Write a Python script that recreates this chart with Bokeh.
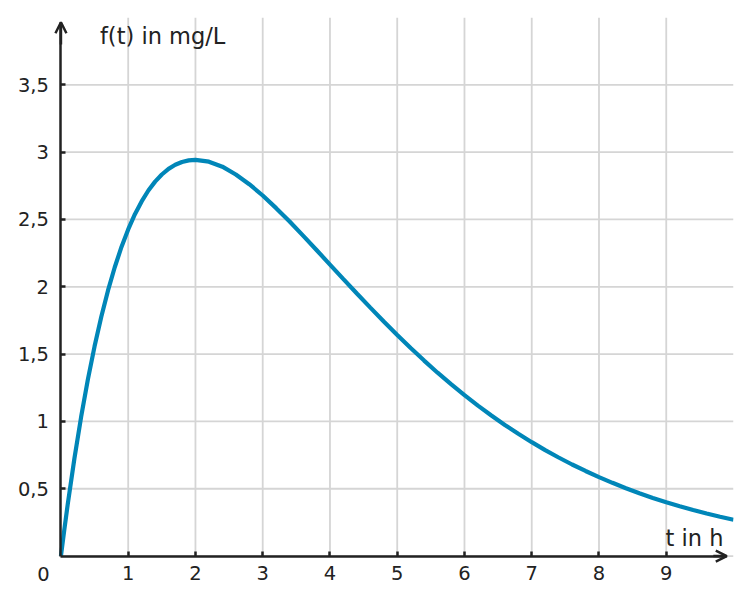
from bokeh.plotting import figure
from bokeh.models import Range1d, FixedTicker, Arrow, OpenHead, Label
from bokeh.embed import file_html
from bokeh.resources import INLINE

# data: concentration f(t) in mg/L over time t in h
t_values = [0, 0.05, 0.1, 0.2, 0.3, 0.4, 0.5, 0.6, 0.7, 0.8, 0.9, 1.0, 1.1, 1.2, 1.3, 1.4,
            1.5, 1.6, 1.7, 1.8, 1.9, 2.0, 2.2, 2.4, 2.6, 2.8, 3.0, 3.2, 3.4, 3.6, 3.8,
            4.0, 4.2, 4.4, 4.6, 4.8, 5.0, 5.2, 5.4, 5.6, 5.8, 6.0, 6.2, 6.4, 6.6, 6.8,
            7.0, 7.2, 7.4, 7.6, 7.8, 8.0, 8.2, 8.4, 8.6, 8.8, 9.0, 9.2, 9.4, 9.6, 9.8, 10.0]
f_values = [0, 0.195, 0.381, 0.724, 1.033, 1.310, 1.558, 1.778, 1.973, 2.145, 2.296, 2.426,
            2.539, 2.634, 2.715, 2.781, 2.834, 2.876, 2.906, 2.927, 2.939, 2.943, 2.929,
            2.892, 2.834, 2.762, 2.678, 2.584, 2.485, 2.380, 2.273, 2.165, 2.057, 1.950,
            1.845, 1.742, 1.642, 1.545, 1.452, 1.362, 1.277, 1.195, 1.117, 1.044, 0.974,
            0.908, 0.846, 0.787, 0.732, 0.680, 0.632, 0.586, 0.544, 0.504, 0.467, 0.432,
            0.400, 0.370, 0.342, 0.316, 0.292, 0.270]

x_ticks = [1, 2, 3, 4, 5, 6, 7, 8, 9]
y_ticks = [0.5, 1, 1.5, 2, 2.5, 3, 3.5]
y_tick_labels = {0.5: "0,5", 1: "1", 1.5: "1,5", 2: "2", 2.5: "2,5", 3: "3", 3.5: "3,5"}
y_axis_title = "f(t) in mg/L"
x_axis_title = "t in h"
origin_label = "0"

T_MAX = 10
F_MAX = 4

FONT = "DejaVu Sans"
AX = "#222222"
GRID = "#d5d5d5"

p = figure(width=745, height=600, output_backend="svg", toolbar_location=None,
           x_range=Range1d(-0.75, T_MAX), y_range=Range1d(-0.33, F_MAX),
           min_border_left=10, min_border_right=12, min_border_top=17, min_border_bottom=0)
p.outline_line_color = None
p.background_fill_color = "white"
p.border_fill_color = "white"
p.xgrid.visible = False
p.ygrid.visible = False

# grid lines (limited to the positive quadrant)
p.segment(x0=x_ticks, y0=[0] * len(x_ticks), x1=x_ticks, y1=[F_MAX] * len(x_ticks),
          line_color=GRID, line_width=1.8)
h_grid = [0] + y_ticks
p.segment(x0=[0] * len(h_grid), y0=h_grid, x1=[T_MAX] * len(h_grid), y1=h_grid,
          line_color=GRID, line_width=1.8)

# axes placed at the origin
for ax, ticks in ((p.xaxis[0], x_ticks), (p.yaxis[0], y_ticks)):
    ax.fixed_location = 0
    ax.ticker = FixedTicker(ticks=ticks)
    ax.axis_line_color = AX
    ax.axis_line_width = 2.5
    ax.major_tick_in = 5
    ax.major_tick_out = 0
    ax.major_tick_line_color = AX
    ax.major_tick_line_width = 2.5
    ax.minor_tick_line_color = None
    ax.major_label_text_font = FONT
    ax.major_label_text_font_size = "19.5px"
    ax.major_label_text_color = AX
p.xaxis[0].bounds = (0, 9.9)
p.yaxis[0].bounds = (0, 3.965)
p.xaxis[0].major_label_standoff = 10
p.yaxis[0].major_label_standoff = 12
p.yaxis[0].major_label_overrides = y_tick_labels

p.line(t_values, f_values, line_color="#0086b8", line_width=4.2)

p.add_layout(Arrow(end=OpenHead(size=11, line_width=2.5, line_color=AX),
                   x_start=0, y_start=3.8, x_end=0, y_end=3.965,
                   line_color=AX, line_width=2.5))
p.add_layout(Arrow(end=OpenHead(size=11, line_width=2.5, line_color=AX),
                   x_start=9.7, y_start=0, x_end=9.9, y_end=0,
                   line_color=AX, line_width=2.5))

p.add_layout(Label(x=0, y=0, text=origin_label, x_offset=-17.5, y_offset=-18,
                   text_align="center", text_baseline="middle",
                   text_font=FONT, text_font_size="19.5px", text_color=AX))
p.add_layout(Label(x=0.58, y=3.862, text=y_axis_title,
                   text_align="left", text_baseline="middle",
                   text_font=FONT, text_font_size="22.5px", text_color=AX))
p.add_layout(Label(x=9.85, y=0.137, text=x_axis_title,
                   text_align="right", text_baseline="middle",
                   text_font=FONT, text_font_size="22.5px", text_color=AX))

open("out.html", "w").write(file_html(p, INLINE))
